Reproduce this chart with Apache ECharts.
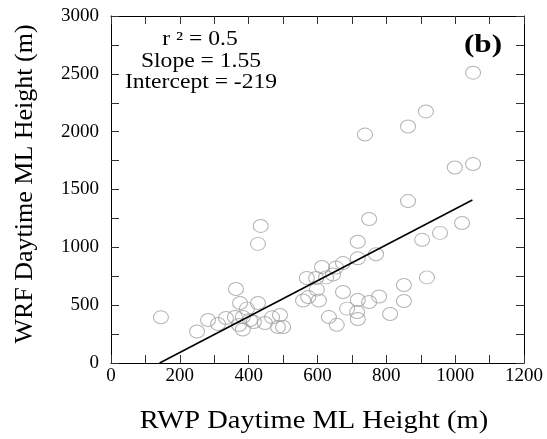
<!DOCTYPE html>
<html><head><meta charset="utf-8">
<script src="https://cdn.jsdelivr.net/npm/echarts@6/dist/echarts.min.js"></script>
<style>html,body{margin:0;padding:0;background:#fff}#c{width:547px;height:439px}</style>
</head><body><div id="c"></div>
<script>
const rwpX = [1052,915,863,738,999,1052,863,750,1020,435,956,904,427,717,770,717,674,654,613,645,625,596,569,598,558,573,604,674,686,715,717,717,750,779,811,851,851,918,633,656,491,500,485,468,447,427,395,375,363,383,415,383,372,334,311,282,250,145,404,360];
const wrfY = [2510,2175,2045,1975,1690,1720,1400,1245,1210,1185,1125,1065,1030,1048,940,905,864,825,830,765,740,735,735,635,540,570,540,614,470,441,380,545,527,575,424,674,536,740,397,330,415,311,311,395,346,519,470,519,640,398,354,290,328,389,337,372,272,395,372,398];
const slope = 1.55, intercept = -219;
const fitRange = [-intercept/slope, 1050];
const xTicks = [0,200,400,600,800,1000,1200];
const yTicks = [0,500,1000,1500,2000,2500,3000];
const statsText = ['r \u00b2 = 0.5','Slope = 1.55','Intercept = -219'];

const pts = rwpX.map((x,i)=>[x,wrfY[i]]);
const fit = fitRange.map(x=>[x, slope*x+intercept]);
const font = 'Liberation Serif';
const axLine = {show:true, onZero:false, lineStyle:{color:'#000', width:1}};
function xa(pos, labels){return {type:'value', position:pos, min:xTicks[0], max:xTicks[xTicks.length-1], interval:200,
  axisLine:axLine, axisTick:{show:true, inside:true, length:8, lineStyle:{color:'#333'}},
  minorTick:{show:true, splitNumber:2, length:8, lineStyle:{color:'#333'}},
  splitLine:{show:false}, minorSplitLine:{show:false},
  axisLabel:{show:labels, fontFamily:font, fontSize:19, color:'#000', margin:4, formatter:v=>String(v)}};}
function ya(pos, labels){return {type:'value', position:pos, min:yTicks[0], max:yTicks[yTicks.length-1], interval:500,
  axisLine:axLine, axisTick:{show:true, inside:true, length:8, lineStyle:{color:'#333'}},
  minorTick:{show:true, splitNumber:2, length:8, lineStyle:{color:'#333'}},
  splitLine:{show:false}, minorSplitLine:{show:false},
  axisLabel:{show:labels, fontFamily:font, fontSize:19, color:'#000', margin:12, formatter:v=>String(v)}};}
const chart = echarts.init(document.getElementById('c'), null, {renderer:'canvas'});
function txt(s, x, y, f, sx, rot){return {type:'text', x:x, y:y, scaleX:sx||1, rotation:rot||0,
  style:{text:s, font:f, fill:'#000', align:'center', verticalAlign:'middle'}};}
chart.setOption({
  animation:false,
  backgroundColor:'#fff',
  grid:{left:111, top:16, width:413, height:347},
  xAxis:[xa('bottom',true), xa('top',false)],
  yAxis:[ya('left',true), ya('right',false)],
  series:[
    {type:'scatter', data:pts, symbol:'circle', symbolSize:[15,13],
     itemStyle:{color:'rgba(255,255,255,0)', borderColor:'#a0a0a0', borderWidth:1}},
    {type:'line', data:fit, symbol:'none', lineStyle:{color:'#000', width:1.6}, z:3}
  ],
  graphic:[
    txt(statsText[0], 200, 40, '20px '+font, 1.18),
    txt(statsText[1], 201, 62, '20px '+font, 1.18),
    txt(statsText[2], 201, 83, '20px '+font, 1.18),
    txt('(b)', 483, 45, 'bold 26px '+font, 1.2),
    txt('RWP Daytime ML Height (m)', 314, 421, '25px '+font, 1.14),
    txt('WRF Daytime ML Height (m)', 25, 184, '26px '+font, 1, Math.PI/2)
  ]
});
</script></body></html>
